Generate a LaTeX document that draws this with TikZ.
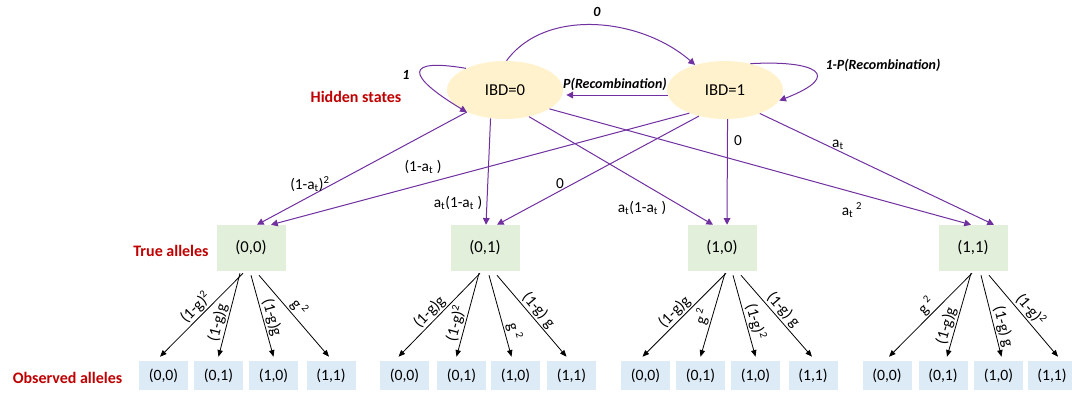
\documentclass[tikz,border=0pt]{standalone}
\usepackage{fontspec}
\setmainfont{Carlito}
\usetikzlibrary{shapes.geometric,arrows.meta,calc}
\definecolor{purp}{HTML}{7030A0}
\definecolor{hidfill}{HTML}{FFF2CC}
\definecolor{truefill}{HTML}{E2EFDA}
\definecolor{obsfill}{HTML}{DDEBF7}
\definecolor{redlab}{HTML}{C00000}
\tikzset{
 hid/.style={ellipse, fill=hidfill, minimum width=87pt, minimum height=43.5pt, inner sep=0pt, font=\fontsize{12.5}{14}\selectfont},
 truebox/.style={rectangle, fill=truefill, minimum width=51.75pt, minimum height=34.5pt, inner sep=0pt, font=\fontsize{12.5}{14}\selectfont},
 obsbox/.style={rectangle, fill=obsfill, minimum width=36.75pt, minimum height=21.75pt, inner sep=0pt, font=\fontsize{11.8}{13}\selectfont},
 parr/.style={draw=purp, line width=0.75pt, -{Triangle[length=5pt,width=5pt]}},
 barr/.style={draw=black, line width=0.6pt, -{Triangle[length=5pt,width=4pt]}},
 plab/.style={font=\fontsize{11.5}{13}\selectfont, inner sep=1pt},
 blab/.style={font=\fontsize{12}{14}\selectfont, inner sep=1pt, sloped, above},
 bilab/.style={font=\fontsize{10.5}{12}\selectfont\bfseries\itshape, inner sep=1pt},
 grouplab/.style={text=redlab, font=\fontsize{12}{14}\selectfont\bfseries, inner sep=0pt},
}
\begin{document}
\begin{tikzpicture}[x=0.75pt,y=-0.75pt]
\path[use as bounding box, fill=white] (0,0) rectangle (1072,393);

% hidden states
\node[hid] (h0) at (505,90) {IBD=0};
\node[hid] (h1) at (725,90) {IBD=1};

% true alleles
\node[truebox] (t00) at (251,248) {(0,0)};
\node[truebox] (t01) at (485,248) {(0,1)};
\node[truebox] (t10) at (722,248) {(1,0)};
\node[truebox] (t11) at (973,248) {(1,1)};

% observed alleles
\node[obsbox] (o1a) at (163.5,375.5) {(0,0)};
\node[obsbox] (o1b) at (218.5,375.5) {(0,1)};
\node[obsbox] (o1c) at (273.5,375.5) {(1,0)};
\node[obsbox] (o1d) at (331,375.5) {(1,1)};
\node[obsbox] (o2a) at (404.5,375.5) {(0,0)};
\node[obsbox] (o2b) at (461.5,375.5) {(0,1)};
\node[obsbox] (o2c) at (515.5,375.5) {(1,0)};
\node[obsbox] (o2d) at (571.5,375.5) {(1,1)};
\node[obsbox] (o3a) at (645.5,375.5) {(0,0)};
\node[obsbox] (o3b) at (700.5,375.5) {(0,1)};
\node[obsbox] (o3c) at (755.5,375.5) {(1,0)};
\node[obsbox] (o3d) at (813,375.5) {(1,1)};
\node[obsbox] (o4a) at (887,375.5) {(0,0)};
\node[obsbox] (o4b) at (943,375.5) {(0,1)};
\node[obsbox] (o4c) at (998.5,375.5) {(1,0)};
\node[obsbox] (o4d) at (1052,375.5) {(1,1)};

% row labels
\node[grouplab] (lh) at (356,97) {Hidden states};
\node[grouplab] (lt) at (171,251) {True alleles};
\node[grouplab] (lo) at (67.5,378) {Observed alleles};

% transitions between hidden states
\draw[parr] (h0.87) .. controls (545,8) and (640,17) .. (h1.140);
\node[bilab] (l0) at (597,12) {0};
\draw[parr, shorten >=3pt] (h1.185) -- (h0.-5);
\node[bilab] (lrec) at (615,84) {P(Recombination)};
\draw[parr] (h0.151) .. controls (405,58) and (405,75) .. (h0.210);
\node[bilab] (l1) at (406,75) {1};
\draw[parr] (h1.46) .. controls (815,60) and (845,75) .. (h1.-11);
\node[bilab] (l1p) at (883,65) {1-P(Recombination)};

% emissions hidden -> true
\draw[parr] (h0.210) -- ($(t00.north)+(6,0)$);
\draw[parr] (h0.243) -- ($(t01.north)+(1,0)$);
\draw[parr] (h0.312) -- ($(t10.north)+(-9,0)$);
\draw[parr] (h0.337) -- ($(t11.north)+(-2,0)$);
\draw[parr] (h1.213) -- ($(t00.north)+(20,0)$);
\draw[parr] (h1.225) -- ($(t01.north)+(12,0)$);
\draw[parr] (h1.275) -- ($(t10.north)+(5,0)$);
\draw[parr] (h1.326) -- ($(t11.north)+(21,0)$);

\node[plab] (e1) at (310,184) {(1-a\textsubscript{t})\textsuperscript{2}};
\node[plab] (e2) at (423,167) {(1-a\textsubscript{t} )};
\node[plab] (e3) at (458,203) {a\textsubscript{t}(1-a\textsubscript{t} )};
\node[plab] (e4) at (560,184) {0};
\node[plab] (e5) at (642,208) {a\textsubscript{t}(1-a\textsubscript{t} )};
\node[plab] (e6) at (738,141) {0};
\node[plab] (e7) at (852,210) {a\textsubscript{t}\,\textsuperscript{2}};
\node[plab] (e8) at (838,145) {a\textsubscript{t}};

% observation arrows, group (0,0)
\draw[barr] ($(t00.south)+(-8,2)$) -- node[blab,pos=0.49]{(1-g)\textsuperscript{2}} ($(o1a.north)+(-3.5,-4)$);
\draw[barr] ($(t00.south)+(-11,2)$) -- node[blab,pos=0.62]{(1-g)g} ($(o1b.north)+(0,-4)$);
\draw[barr] ($(t00.south)+(0,4)$) -- node[blab,pos=0.55]{(1-g)g} ($(o1c.north)+(0,-4)$);
\draw[barr] ($(t00.south)+(8,4)$) -- node[blab,pos=0.47]{g\,\textsuperscript{2}} ($(o1d.north)+(-2,-4)$);
% group (0,1)
\draw[barr] ($(t01.south)+(-5,2)$) -- node[blab,pos=0.54]{(1-g)g} ($(o2a.north)+(-6,-4)$);
\draw[barr] ($(t01.south)+(-6,2)$) -- node[blab,pos=0.63]{(1-g)\textsuperscript{2}} ($(o2b.north)+(-5,-4)$);
\draw[barr] ($(t01.south)+(4,4)$) -- node[blab,pos=0.72]{g\,\textsuperscript{2}} ($(o2c.north)+(-4,-4)$);
\draw[barr] ($(t01.south)+(12,4)$) -- node[blab,pos=0.5]{(1-g) g} ($(o2d.north)+(-5,-4)$);
% group (1,0)
\draw[barr] ($(t10.south)+(4,2)$) -- node[blab,pos=0.54]{(1-g)g} ($(o3a.north)+(-3,-4)$);
\draw[barr] ($(t10.south)+(3,2)$) -- node[blab,pos=0.55]{g\,\textsuperscript{2}} ($(o3b.north)+(0,-4)$);
\draw[barr] ($(t10.south)+(11,4)$) -- node[blab,pos=0.6]{(1-g)\textsuperscript{2}} ($(o3c.north)+(0,-4)$);
\draw[barr] ($(t10.south)+(19,4)$) -- node[blab,pos=0.5]{(1-g) g} ($(o3d.north)+(-1,-4)$);
% group (1,1)
\draw[barr] ($(t11.south)+(-1,2)$) -- node[blab,pos=0.47]{g\,\textsuperscript{2}} ($(o4a.north)+(2,-4)$);
\draw[barr] ($(t11.south)+(-2,2)$) -- node[blab,pos=0.66]{(1-g)g} ($(o4b.north)+(4,-4)$);
\draw[barr] ($(t11.south)+(8,4)$) -- node[blab,pos=0.66]{(1-g) g} ($(o4c.north)+(3,-4)$);
\draw[barr] ($(t11.south)+(16,4)$) -- node[blab,pos=0.5]{(1-g)\textsuperscript{2}} ($(o4d.north)+(6,-4)$);
\end{tikzpicture}
\end{document}
